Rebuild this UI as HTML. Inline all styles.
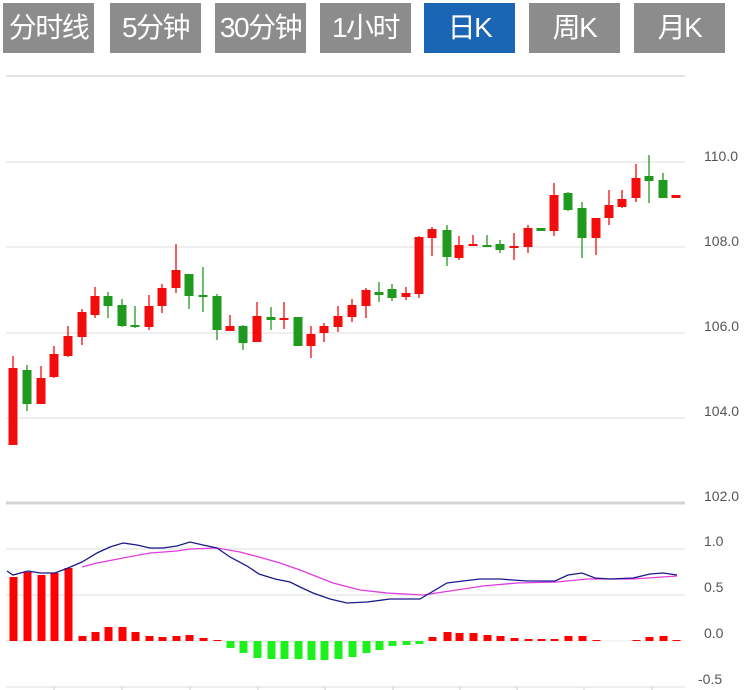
<!DOCTYPE html>
<html><head><meta charset="utf-8"><style>
html,body{margin:0;padding:0;background:#fff;width:751px;height:690px;overflow:hidden}
.tab{position:absolute;top:3px;height:50px;width:91px;background:#8c8c8c;color:#fff;font:28px "Liberation Sans","Noto Sans CJK SC",sans-serif;line-height:50px;text-align:center;letter-spacing:-1.5px}
.act{background:#1a66b5}
svg{position:absolute;left:0;top:0}
</style></head><body>
<div class="tab" style="left:3px">分时线</div>
<div class="tab" style="left:110px">5分钟</div>
<div class="tab" style="left:215px">30分钟</div>
<div class="tab" style="left:320px">1小时</div>
<div class="tab act" style="left:424px">日K</div>
<div class="tab" style="left:529px">周K</div>
<div class="tab" style="left:634px">月K</div>
<svg id="s" width="751" height="690" xmlns="http://www.w3.org/2000/svg" font-family="Liberation Sans, sans-serif" font-size="14" fill="#555">
<line x1="6" y1="76" x2="685" y2="76" stroke="#e2e2e2" stroke-width="2"/>
<g stroke="#dcdcdc" stroke-width="1">
<line x1="6" y1="162" x2="685" y2="162"/><line x1="6" y1="247" x2="685" y2="247"/>
<line x1="6" y1="333" x2="685" y2="333"/><line x1="6" y1="418" x2="685" y2="418"/>
<line x1="6" y1="549" x2="685" y2="549"/><line x1="6" y1="595" x2="685" y2="595"/>
<line x1="6" y1="641" x2="685" y2="641" stroke="#eee"/>
<line x1="6" y1="687" x2="685" y2="687"/>
</g>
<line x1="6" y1="503" x2="685" y2="503" stroke="#d4d4d4" stroke-width="3"/>
<g fill="#555">
<text x="704" y="161">110.0</text><text x="704" y="246">108.0</text><text x="704" y="331">106.0</text>
<text x="704" y="416">104.0</text><text x="704" y="501">102.0</text>
<text x="704" y="546">1.0</text><text x="704" y="592">0.5</text><text x="704" y="638">0.0</text><text x="698" y="684">-0.5</text>
</g>
<g id="c"></g><g id="m"></g>
</svg>
<script>
var C=[[13,'r',368,445,356,445],[27,'g',370,404,365,411],[41,'r',378,404,366,404],[54,'r',354,377,346,378],[68,'r',336,356,326,357],[82,'r',312,337,309,345],[95,'r',296,315,287,318],[108,'g',296,306,292,318],[122,'g',305,326,299,327],[135,'g',325,327,306,328],[149,'r',306,327,295,330],[162,'r',288,306,284,313],[176,'r',270,288,244,293],[189,'g',274,296,274,309],[203,'g',295,297,267,312],[217,'g',296,330,294,340],[230,'r',326,331,315,331],[243,'g',326,343,325,350],[257,'r',316,342,302,342],[271,'g',317,320,307,330],[284,'r',318,320,302,329],[298,'g',317,346,317,346],[311,'r',334,346,326,358],[324,'r',326,333,323,342],[338,'r',316,327,306,332],[352,'r',305,317,299,322],[366,'r',290,306,288,318],[379,'g',292,295,282,302],[392,'g',289,298,284,301],[406,'r',293,297,287,300],[419,'r',237,294,236,298],[432,'r',229,238,227,256],[447,'g',230,257,225,266],[459,'r',245,258,236,260],[473,'r',244,246,235,246],[487,'g',245,246,235,247],[500,'g',244,250,240,253],[514,'r',246,248,233,260],[528,'r',228,247,225,253],[541,'g',228,231,228,231],[554,'r',195,231,183,236],[568,'g',193,210,192,211],[582,'g',208,238,202,258],[596,'r',218,238,218,255],[609,'r',205,218,190,225],[622,'r',199,207,190,208],[636,'r',178,198,164,202],[649,'g',176,181,155,203],[663,'g',180,198,173,198],[676,'r',195,198,195,198]];
var h='';
C.forEach(function(c){var col=c[1]=='r'?'#f20c0c':'#1f9a1f';
h+='<line x1="'+c[0]+'" x2="'+c[0]+'" y1="'+c[4]+'" y2="'+c[5]+'" stroke="'+col+'" stroke-width="1.3"/>';
h+='<rect x="'+(c[0]-4.5)+'" y="'+c[2]+'" width="9" height="'+Math.max(2,c[3]-c[2])+'" fill="'+col+'"/>';});
document.getElementById('c').innerHTML=h;
var R=[577,572,575,573,568,636,632,627,627,632,636,637,636,635,638,640];
var G=[648,653,658,659,659,659,660,660,659,657,653,650,646,645,644];
var R2=[637,632,633,633,635,636,638,639,639,639,636,636,640,641,641,640,637,636,640];
var m='';
for(var i=0;i<C.length;i++){var x=C[i][0],y;
 if(i<16){y=R[i];m+='<rect x="'+(x-3.5)+'" y="'+y+'" width="8" height="'+(641-y)+'" fill="#f00"/>';}
 else if(i<31){y=G[i-16];m+='<rect x="'+(x-3.5)+'" y="641" width="8" height="'+(y-641)+'" fill="#1ef01e"/>';}
 else{y=R2[i-31];if(y!==undefined&&y<641)m+='<rect x="'+(x-3.5)+'" y="'+y+'" width="8" height="'+(641-y)+'" fill="#f00"/>';}}
var dif='7,571 13,575 28,571 40,573 55,573 68,568 82,562 97,553 110,547 123,543 137,545 150,548 163,548 177,546 190,542 203,545 217,548 230,557 247,566 259,574 275,579 290,582 300,587 313,593 330,599 347,603 367,602 390,599 420,599 447,583 463,581 480,579 500,579 527,581 540,581 555,581 568,575 582,573 595,578 610,579 633,578 650,574 663,573 677,575';
var dea='82,567 97,563 123,558 150,553 177,551 190,549 217,548 240,552 259,557 280,563 300,570 333,583 360,590 387,593 423,595 450,591 483,586 517,583 557,582 587,579 610,579 633,579 677,576';
m+='<polyline points="'+dea+'" fill="none" stroke="#e03ce0" stroke-width="1.3"/>';
m+='<polyline points="'+dif+'" fill="none" stroke="#1a1a8c" stroke-width="1.3"/>';
[54,122,190,258,325,393,460,517,584,652].forEach(function(x){m+='<line x1="'+x+'" x2="'+x+'" y1="687" y2="692" stroke="#ccc"/>';});
document.getElementById('m').innerHTML=m;
</script>
</body></html>
